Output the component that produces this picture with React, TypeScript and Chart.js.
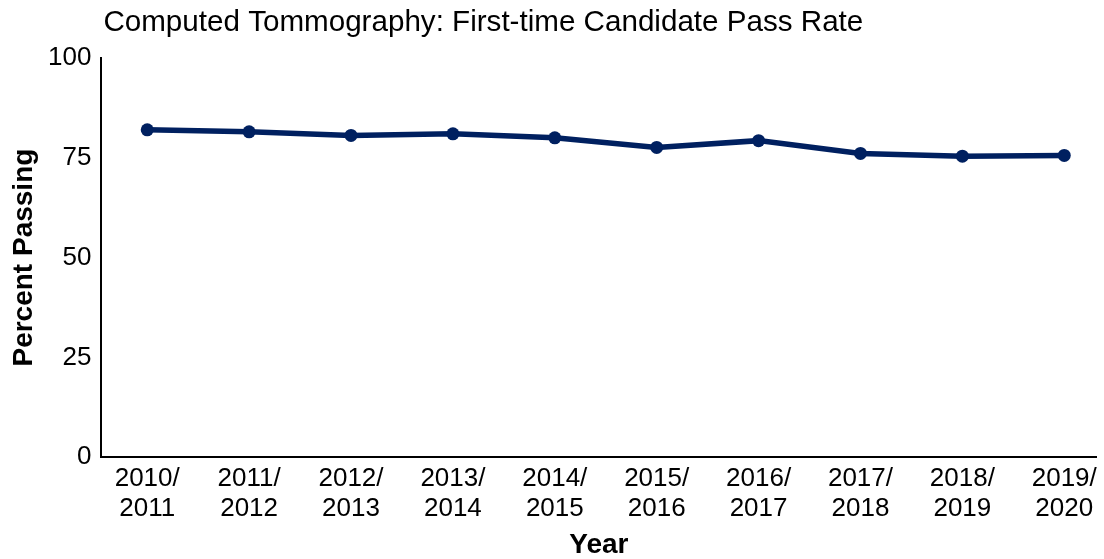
import React, { useEffect, useRef } from "react";
import { Chart, registerables } from "chart.js";

Chart.register(...registerables);

const titleText = "Computed Tommography: First-time Candidate Pass Rate";
const yTitle = "Percent Passing";
const xTitle = "Year";
const yearStarts = ["2010/", "2011/", "2012/", "2013/", "2014/", "2015/", "2016/", "2017/", "2018/", "2019/"];
const yearEnds = ["2011", "2012", "2013", "2014", "2015", "2016", "2017", "2018", "2019", "2020"];
const passRates = [82.0, 81.5, 80.6, 81.0, 80.0, 77.6, 79.3, 76.1, 75.4, 75.6];
const yTicks = [0, 25, 50, 75, 100];

const FONT = "'Liberation Sans', Arial, sans-serif";
const NAVY = "#002060";

export default function App() {
  const ref = useRef<HTMLCanvasElement | null>(null);
  useEffect(() => {
    if (!ref.current) return;
    const titlePlugin = {
      id: "leftTitle",
      afterDraw(chart: any) {
        const ctx = chart.ctx;
        ctx.save();
        ctx.font = `29.6px ${FONT}`;
        ctx.fillStyle = "#000";
        ctx.textBaseline = "middle";
        ctx.textAlign = "left";
        ctx.fillText(titleText, chart.chartArea.left + 2, 23);
        ctx.restore();
      },
    };
    const chart = new Chart(ref.current, {
      type: "line",
      data: {
        datasets: [
          {
            data: passRates.map((v, i) => ({ x: i, y: v })),
            borderColor: NAVY,
            backgroundColor: NAVY,
            borderWidth: 5.5,
            pointRadius: 6.5,
            pointBackgroundColor: NAVY,
            pointBorderWidth: 0,
            tension: 0,
          },
        ],
      },
      options: {
        animation: false,
        responsive: false,
        layout: { padding: { top: 58, right: 0, left: 0, bottom: 0 } },
        plugins: { legend: { display: false }, title: { display: false }, tooltip: { enabled: false } },
        scales: {
          x: {
            type: "linear",
            min: -0.45,
            max: 9.315,
            afterBuildTicks: (scale: any) => {
              scale.ticks = yearStarts.map((_, i) => ({ value: i }));
            },
            ticks: {
              autoSkip: false,
              maxRotation: 0,
              padding: 7,
              color: "#000",
              font: { family: FONT, size: 26, lineHeight: 1.15 },
              callback: (v: any) => [yearStarts[v], yearEnds[v]],
            },
            grid: { display: false, drawTicks: false },
            border: { display: true, color: "#000", width: 2 },
            title: {
              display: true,
              text: xTitle,
              color: "#000",
              font: { family: FONT, size: 28, weight: "bold", lineHeight: 1.0 },
              padding: { top: 0, bottom: 0 },
            },
          },
          y: {
            min: 0,
            max: 100,
            afterBuildTicks: (scale: any) => {
              scale.ticks = yTicks.map((v) => ({ value: v }));
            },
            ticks: {
              padding: 10,
              color: "#000",
              font: { family: FONT, size: 26 },
            },
            grid: { display: false, drawTicks: false },
            border: { display: true, color: "#000", width: 2 },
            title: {
              display: true,
              text: yTitle,
              color: "#000",
              font: { family: FONT, size: 28, weight: "bold", lineHeight: 1.0 },
              padding: { top: 10, bottom: 0 },
            },
          },
        },
      },
      plugins: [titlePlugin],
    });
    return () => chart.destroy();
  }, []);
  return (
    <div style={{ position: "fixed", left: 0, top: 0, width: 1104, height: 559, background: "#fff" }}>
      <canvas ref={ref} width={1104} height={559} style={{ width: 1104, height: 559 }} />
    </div>
  );
}
